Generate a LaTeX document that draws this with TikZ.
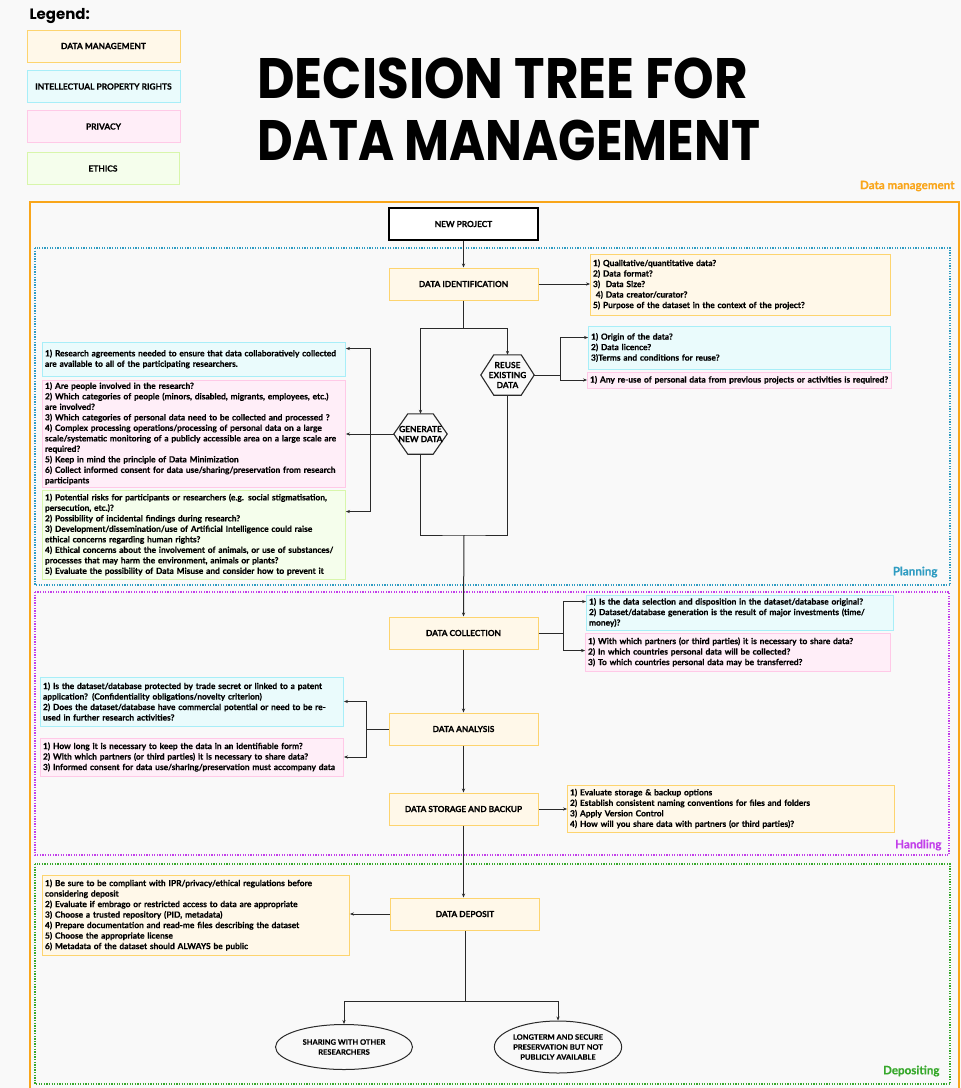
\documentclass[tikz,border=0pt]{standalone}
\usepackage{fontspec}
\usepackage{graphicx}
\setmainfont{Lato}[BoldFeatures={FakeBold=0.4}]
\newfontfamily\titlefont{Poppins}
\usetikzlibrary{calc,arrows.meta,shapes.geometric}
\definecolor{bg}{HTML}{F9F9F9}
\definecolor{dmF}{HTML}{FFF8E9}\definecolor{dmB}{HTML}{FDD46F}
\definecolor{ipF}{HTML}{EAFBFC}\definecolor{ipB}{HTML}{A8EEF8}
\definecolor{prF}{HTML}{FFEEF8}\definecolor{prB}{HTML}{FFC9E7}
\definecolor{etF}{HTML}{F5FEEC}\definecolor{etB}{HTML}{D8F6AB}
\definecolor{orng}{HTML}{F9A61A}
\definecolor{plan}{HTML}{2F9CC2}
\definecolor{hand}{HTML}{C23FEA}
\definecolor{depo}{HTML}{36A82B}
\definecolor{ln}{HTML}{2A2A2A}
\newcommand{\boxfont}{\bfseries\fontsize{8.4}{10.5}\selectfont}
\newcommand{\stagefont}{\bfseries\fontsize{8.3}{9}\selectfont}
\newcommand{\tbox}[7]{%
 \pgfmathsetmacro\bw{#5-#3}\pgfmathsetmacro\bh{#6-#4}\pgfmathsetmacro\tw{#5-#3-5}%
 \node[#2, minimum width=\bw pt, minimum height=\bh pt, text width=\tw pt, align=left, inner sep=0pt, font=\boxfont] (#1) at ({(#3+#5)/2+0.5},{(#4+#6)/2}) {#7};}
\tikzset{
 dm/.style={draw=dmB, fill=dmF, line width=0.9pt},
 ip/.style={draw=ipB, fill=ipF, line width=0.9pt},
 pr/.style={draw=prB, fill=prF, line width=0.9pt},
 et/.style={draw=etB, fill=etF, line width=0.9pt},
 stage/.style={dm, line width=1pt, minimum width=149pt, minimum height=32pt, inner sep=0pt, font=\stagefont, align=center},
 legbox/.style={minimum width=153pt, minimum height=32pt, inner sep=0pt, font=\bfseries\fontsize{8.4}{9}\selectfont},
 conn/.style={draw=ln, line width=1pt},
 arr/.style={conn, -{Stealth[length=4pt,width=3.2pt]}},
 hexlab/.style={draw=none, minimum width=53pt, minimum height=40pt, inner sep=0pt, align=center, font=\bfseries\fontsize{8.4}{10}\selectfont},
 hexline/.style={draw=ln, line width=1.1pt, fill=bg},
 zone/.style={line width=1.2pt, dash pattern=on 1.3pt off 1.3pt},
 zlab/.style={anchor=east, font=\bfseries\fontsize{11.6}{13}\selectfont},
 oval/.style={ellipse, draw=ln, line width=1pt, fill=bg, inner sep=0pt, align=center, font=\bfseries\fontsize{7.5}{10}\selectfont}
}
\begin{document}
\begin{tikzpicture}[x=1pt,y=-1pt]
\useasboundingbox (0,0) rectangle (961,1088);
\fill[bg] (0,0) rectangle (961,1088);

% Legend
\node[anchor=west, font=\titlefont\bfseries\fontsize{15}{16}\selectfont] (legend) at (26,16) {Legend:};
\node[legbox, dm] (l1) at (103.5,46) {DATA MANAGEMENT};
\node[legbox, ip] (l2) at (103.5,86.5) {INTELLECTUAL PROPERTY RIGHTS};
\node[legbox, pr] (l3) at (103.5,126.5) {PRIVACY};
\node[legbox, et, minimum width=152pt] (l4) at (103,168.5) {ETHICS};

% Title
\node[anchor=base west, inner sep=0pt] (t1) at (257,98) {\resizebox{491pt}{\height}{\titlefont\bfseries\fontsize{57}{60}\selectfont DECISION TREE FOR}};
\node[anchor=base west, inner sep=0pt] (t2) at (257,160) {\resizebox{503pt}{\height}{\titlefont\bfseries\fontsize{57}{60}\selectfont DATA MANAGEMENT}};

% Zones
\draw[orng, line width=1.3pt] (30,1095) -- (30,202) -- (959,202) -- (959,1095);
\node[zlab, text=orng] (zdm) at (958,186) {Data management};
\draw[zone, plan] (35,248) rectangle (950,585);
\node[zlab, text=plan] (zp) at (941,572) {Planning};
\draw[zone, hand] (35,592) rectangle (949,855);
\node[zlab, text=hand] (zh) at (945,845) {Handling};
\draw[zone, depo] (35,864) rectangle (950,1084);
\node[zlab, text=depo] (zd) at (943,1071) {Depositing};

% Main nodes
\node[stage, draw=black, fill=white, line width=1.2pt] (np) at (463.5,224) {NEW PROJECT};
\node[stage] (di) at (463.5,284) {DATA IDENTIFICATION};
\node[stage] (dc) at (463.5,633) {DATA COLLECTION};
\node[stage] (da) at (463.5,729) {DATA ANALYSIS};
\node[stage] (ds) at (463.5,809) {DATA STORAGE AND BACKUP};
\node[stage] (dd) at (465,914) {DATA DEPOSIT};

% Hexagons
\node[hexlab] (reuse) at (507.5,375) {};
\draw[hexline] ($(reuse.north west)+(13,0)$) -- ($(reuse.north east)+(-13,0)$) -- (reuse.east) -- ($(reuse.south east)+(-13,0)$) -- ($(reuse.south west)+(13,0)$) -- (reuse.west) -- cycle;
\node[hexlab] at (reuse) {REUSE\\EXISTING\\DATA};
\node[hexlab] (gen) at (420.5,434) {};
\draw[hexline] ($(gen.north west)+(14,0)$) -- ($(gen.north east)+(-14,0)$) -- (gen.east) -- ($(gen.south east)+(-14,0)$) -- ($(gen.south west)+(14,0)$) -- (gen.west) -- cycle;
\node[hexlab] at (gen) {GENERATE\\NEW DATA};

% Ovals
\node[oval, minimum width=137pt, minimum height=45pt] (o1) at (344,1047) {SHARING WITH OTHER\\RESEARCHERS};
\node[oval, minimum width=125pt, minimum height=52pt] (o2) at (558,1047) {LONGTERM AND SECURE\\PRESERVATION BUT NOT\\PUBLICLY AVAILABLE};

% Text boxes
\tbox{dibox}{dm}{590}{254}{890}{315}{1) Qualitative/quantitative data?\\2) Data format?\\3)\ \ Data Size?\\\ 4) Data creator/curator?\\5) Purpose of the dataset in the context of the project?}
\tbox{ripr}{ip}{588}{326}{890}{369}{1) Origin of the data?\\2) Data licence?\\3)Terms and conditions for reuse?}
\tbox{rpriv}{pr}{587}{372}{891}{388}{1) Any re-use of personal data from previous projects or activities is required?}
\tbox{gipr}{ip}{42}{342}{345}{376}{1) Research agreements needed to ensure that data collaboratively collected\\are available to all of the participating researchers.}
\tbox{gpriv}{pr}{42}{380}{345}{487}{1) Are people involved in the research?\\2) Which categories of people (minors, disabled, migrants, employees, etc.)\\are involved?\\3) Which categories of personal data need to be collected and processed ?\\4) Complex processing operations/processing of personal data on a large\\scale/systematic monitoring of a publicly accessible area on a large scale are\\required?\\5) Keep in mind the principle of Data Minimization\\6) Collect informed consent for data use/sharing/preservation from research\\participants}
\tbox{geth}{et}{42}{490}{345}{579}{1) Potential risks for participants or researchers (e.g. social stigmatisation,\\persecution, etc.)?\\2) Possibility of incidental findings during research?\\3) Development/dissemination/use of Artificial Intelligence could raise\\ethical concerns regarding human rights?\\4) Ethical concerns about the involvement of animals, or use of substances/\\processes that may harm the environment, animals or plants?\\5) Evaluate the possibility of Data Misuse and consider how to prevent it}
\tbox{cipr}{ip}{586}{595}{893}{630}{1) Is the data selection and disposition in the dataset/database original?\\2) Dataset/database generation is the result of major investments (time/\\money)?}
\tbox{cpriv}{pr}{585}{633}{890}{671}{1) With which partners (or third parties) it is necessary to share data?\\2) In which countries personal data will be collected?\\3) To which countries personal data may be transferred?}
\tbox{aipr}{ip}{40}{677}{343}{726}{1) Is the dataset/database protected by trade secret or linked to a patent\\application? (Confidentiality obligations/novelty criterion)\\2) Does the dataset/database have commercial potential or need to be re-\\used in further research activities?}
\tbox{apriv}{pr}{40}{738}{343}{776}{1) How long it is necessary to keep the data in an identifiable form?\\2) With which partners (or third parties) it is necessary to share data?\\3) Informed consent for data use/sharing/preservation must accompany data}
\tbox{sbox}{dm}{567}{785}{894}{832}{1) Evaluate storage \& backup options\\2) Establish consistent naming conventions for files and folders\\3) Apply Version Control\\4) How will you share data with partners (or third parties)?}
\tbox{dbox}{dm}{42}{875}{349}{955}{1) Be sure to be compliant with IPR/privacy/ethical regulations before\\considering deposit\\2) Evaluate if embrago or restricted access to data are appropriate\\3) Choose a trusted repository (PID, metadata)\\4) Prepare documentation and read-me files describing the dataset\\5) Choose the appropriate license\\6) Metadata of the dataset should ALWAYS be public}

% Connectors
\draw[arr] (np.south) -- (di.north);
\draw[arr] (di.east) -- (dibox.west |- di.east);
\draw[conn] (di.south) -- ++(0,28) coordinate (s1);
\draw[arr] (s1) -| (gen.north);
\draw[arr] (s1) -| (reuse.north);
\draw[conn] (reuse.east) -- ++(26.5,0) coordinate (rj);
\draw[arr] (rj) |- ([yshift=-12pt]ripr.north west);
\draw[arr] (rj) |- (rpriv.west);
\draw[arr] (gen.west) -- (gpriv.east |- gen.west);
\coordinate (gj) at ($(gen.west)+(-23.5,0)$);
\draw[arr] (gj) |- ([yshift=-7pt]gipr.north east);
\draw[arr] (gj) |- ([yshift=-22pt]geth.north east);
\draw[conn] (gen.south) |- (464,535) -| (reuse.south);
\coordinate (m1) at (464,535);
\draw[arr] (m1) -- (dc.north);
\draw[conn] (dc.east) -- ++(25,0) coordinate (cj);
\draw[arr] (cj) |- ([yshift=-7pt]cipr.north west);
\draw[arr] (cj) |- ([yshift=-18pt]cpriv.north west);
\draw[arr] (dc.south) -- (da.north);
\draw[conn] (da.west) -- ++(-22,0) coordinate (aj);
\draw[arr] (aj) |- (aipr.east);
\draw[arr] (aj) |- (apriv.east);
\draw[arr] (da.south) -- (ds.north);
\draw[arr] (ds.east) -- (sbox.west |- ds.east);
\draw[arr] (ds.south) -- (ds.south |- dd.north);
\draw[arr] (dd.west) -- (dbox.east |- dd.west);
\draw[conn] (dd.south) -- ++(0,71) coordinate (dj);
\draw[arr] (dj) -| (o1.north);
\draw[arr] (dj) -| (o2.north);
\end{tikzpicture}
\end{document}
